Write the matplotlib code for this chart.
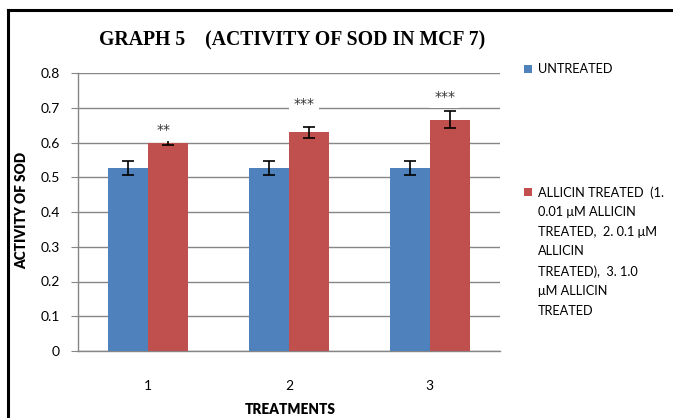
import matplotlib
matplotlib.use("Agg")
import matplotlib.pyplot as plt
from matplotlib.lines import Line2D
from matplotlib.patches import Rectangle
import numpy as np

categories = ["1", "2", "3"]
untreated = [0.527, 0.527, 0.527]
untreated_err = [0.02, 0.02, 0.02]
allicin = [0.599, 0.629, 0.666]
allicin_err = [0.007, 0.016, 0.025]
stars = ["**", "***", "***"]
star_y = [0.636, 0.711, 0.732]
yticks = [0, 0.1, 0.2, 0.3, 0.4, 0.5, 0.6, 0.7, 0.8]
ytick_labels = ["0", "0.1", "0.2", "0.3", "0.4", "0.5", "0.6", "0.7", "0.8"]
legend_labels = ["UNTREATED",
                 "ALLICIN TREATED  (1.\n0.01 \u03bcM ALLICIN\nTREATED,  2. 0.1 \u03bcM\nALLICIN\nTREATED),  3. 1.0\n\u03bcM ALLICIN\nTREATED"]

BLUE = "#4F81BD"
RED = "#C0504D"
GRID = "#868686"
SANS = ["Lato", "DejaVu Sans"]

W, H = 673, 418
fig = plt.figure(figsize=(W / 100, H / 100), dpi=100)
fig.patch.set_facecolor("white")
ax = fig.add_axes([78 / W, 1 - 351 / H, (500 - 78) / W, (351 - 73) / H])

x = np.arange(len(categories))
bw = 0.284
ax.bar(x - bw / 2, untreated, bw, color=BLUE, yerr=untreated_err,
       error_kw=dict(ecolor="black", elinewidth=1.2, capsize=4, capthick=1.2), zorder=3)
ax.bar(x + bw / 2, allicin, bw, color=RED, yerr=allicin_err,
       error_kw=dict(ecolor="black", elinewidth=1.2, capsize=4, capthick=1.2), zorder=3)

for i, (s, yv) in enumerate(zip(stars, star_y)):
    ax.text(x[i] + bw / 2 - 0.035, yv, s, ha="center", va="center", fontsize=10,
            family=["DejaVu Sans"], color="#333333", zorder=4,
            bbox=dict(facecolor="white", edgecolor="none", pad=3))

ax.set_xlim(-0.5, 2.5)
ax.set_ylim(0, 0.8)
ax.set_yticks(yticks)
ax.set_yticklabels(ytick_labels, family=SANS, fontsize=10)
ax.set_xticks(x)
ax.set_xticklabels(categories, family=SANS, fontsize=10)
ax.tick_params(axis="y", length=5, color=GRID, pad=8)
ax.tick_params(axis="x", length=0, pad=21)
ax.yaxis.grid(True, color=GRID, linewidth=1)
ax.set_axisbelow(True)
for sp in ["top", "right"]:
    ax.spines[sp].set_visible(False)
ax.spines["left"].set_color(GRID)
ax.spines["bottom"].set_color(GRID)
ax.spines["left"].set_linewidth(1)
ax.spines["bottom"].set_linewidth(1)

fig.text(22 / W, 1 - 210 / H, "ACTIVITY OF SOD", rotation=90, ha="center", va="center",
         fontsize=9.8, fontweight="heavy", family=SANS)
fig.text(290 / W, 1 - 410 / H, "TREATMENTS", ha="center", va="center",
         fontsize=9.8, fontweight="heavy", family=SANS)
fig.text(292 / W, 1 - 40 / H, "GRAPH 5    (ACTIVITY OF SOD IN MCF 7)", ha="center", va="center",
         fontsize=14.2, fontweight="bold", family=["Liberation Serif"])

# legend
fig.patches.append(Rectangle((524 / W, 1 - 73 / H), 8 / W, 8 / H, transform=fig.transFigure,
                             facecolor=BLUE, edgecolor="none"))
fig.text(538 / W, 1 - 69 / H, legend_labels[0], ha="left", va="center", fontsize=9.2, family=SANS)
fig.patches.append(Rectangle((524 / W, 1 - 196 / H), 8 / W, 8 / H, transform=fig.transFigure,
                             facecolor=RED, edgecolor="none"))
fig.text(538 / W, 1 - 186 / H, legend_labels[1], ha="left", va="top", fontsize=9.2, family=SANS,
         linespacing=1.75)

# border
fig.add_artist(Line2D([8 / W, 1.0], [1 - 10 / H, 1 - 10 / H], transform=fig.transFigure,
                      color="black", linewidth=2.2))
fig.add_artist(Line2D([8 / W, 8 / W], [0, 1 - 10 / H], transform=fig.transFigure,
                      color="black", linewidth=2.2))

fig.savefig("out.png", dpi=100, facecolor="white")
